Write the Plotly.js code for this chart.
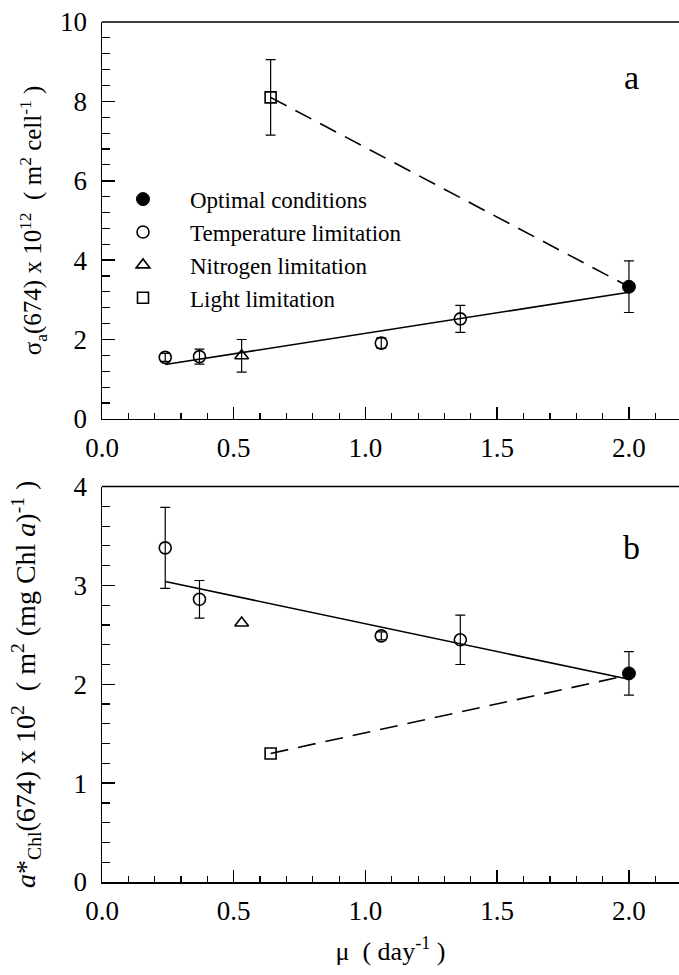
<!DOCTYPE html>
<html><head><meta charset="utf-8">
<script src="https://cdn.plot.ly/plotly-3.0.1.min.js"></script>
<style>html,body{margin:0;padding:0;background:#fff;overflow:hidden}</style>
</head><body><div id="chart" style="width:679px;height:975px"></div>
<script>
// ---- Panel a : sigma_a(674) x 10^12 (m2 cell-1) ----
const optX_a = [2.0];
const optY_a = [3.33];
const optErr_a = [0.65];
const tempX_a = [0.24, 0.37, 1.06, 1.36];
const tempY_a = [1.55, 1.57, 1.91, 2.52];
const tempErr_a = [0.10, 0.19, 0.13, 0.34];
const nitX_a = [0.53];
const nitY_a = [1.59];
const nitErr_a = [0.41];
const lightX_a = [0.64];
const lightY_a = [8.10];
const lightErr_a = [0.95];
const fitX_a = [0.24, 2.0];
const fitY_a = [1.37, 3.19];
const dashX_a = [0.64, 2.0];
const dashY_a = [8.10, 3.33];

// ---- Panel b : a*Chl(674) x 10^2 (m2 (mg Chl a)-1) ----
const optX_b = [2.0];
const optY_b = [2.11];
const optErr_b = [0.22];
const tempX_b = [0.24, 0.37, 1.06, 1.36];
const tempY_b = [3.38, 2.86, 2.49, 2.45];
const tempErr_b = [0.41, 0.19, 0.04, 0.25];
const nitX_b = [0.53];
const nitY_b = [2.62];
const lightX_b = [0.64];
const lightY_b = [1.30];
const fitX_b = [0.24, 2.0];
const fitY_b = [3.04, 2.05];
const dashX_b = [0.64, 1.96];
const dashY_b = [1.30, 2.07];

const xTickVals = [0, 0.5, 1.0, 1.5, 2.0];
const groupNames = ['Optimal conditions', 'Temperature limitation', 'Nitrogen limitation', 'Light limitation'];

const FONT = 'Liberation Serif, Times New Roman, serif';
const NB = '\u00A0';
const errStyle = {type:'data', visible:true, color:'black', thickness:1.2, width:5};

function err(arr){ return Object.assign({}, errStyle, {array: arr}); }

const traces = [
  // lines panel a
  {x: fitX_a, y: fitY_a, mode:'lines', line:{color:'black', width:1.6}, showlegend:false, xaxis:'x', yaxis:'y', hoverinfo:'skip'},
  {x: dashX_a, y: dashY_a, mode:'lines', line:{color:'black', width:1.6, dash:'18px,10px'}, showlegend:false, xaxis:'x', yaxis:'y', hoverinfo:'skip'},
  // lines panel b
  {x: fitX_b, y: fitY_b, mode:'lines', line:{color:'black', width:1.6}, showlegend:false, xaxis:'x2', yaxis:'y2', hoverinfo:'skip'},
  {x: dashX_b, y: dashY_b, mode:'lines', line:{color:'black', width:1.6, dash:'18px,10px'}, showlegend:false, xaxis:'x2', yaxis:'y2', hoverinfo:'skip'},
  // markers panel a
  {x: optX_a, y: optY_a, error_y: err(optErr_a), mode:'markers', name: groupNames[0], legendgroup:'g0',
   marker:{symbol:'circle', size:13, color:'black', line:{color:'black', width:1}}, xaxis:'x', yaxis:'y'},
  {x: tempX_a, y: tempY_a, error_y: err(tempErr_a), mode:'markers', name: groupNames[1], legendgroup:'g1',
   marker:{symbol:'circle-open', size:12, color:'black', line:{color:'black', width:1.6}}, xaxis:'x', yaxis:'y'},
  {x: nitX_a, y: nitY_a, error_y: err(nitErr_a), mode:'markers', name: groupNames[2], legendgroup:'g2',
   marker:{symbol:'triangle-up-open', size:12, color:'black', line:{color:'black', width:1.6}}, xaxis:'x', yaxis:'y'},
  {x: lightX_a, y: lightY_a, error_y: err(lightErr_a), mode:'markers', name: groupNames[3], legendgroup:'g3',
   marker:{symbol:'square-open', size:11, color:'black', line:{color:'black', width:1.6}}, xaxis:'x', yaxis:'y'},
  // markers panel b
  {x: optX_b, y: optY_b, error_y: err(optErr_b), mode:'markers', name: groupNames[0], legendgroup:'g0', showlegend:false,
   marker:{symbol:'circle', size:13, color:'black', line:{color:'black', width:1}}, xaxis:'x2', yaxis:'y2'},
  {x: tempX_b, y: tempY_b, error_y: err(tempErr_b), mode:'markers', name: groupNames[1], legendgroup:'g1', showlegend:false,
   marker:{symbol:'circle-open', size:12, color:'black', line:{color:'black', width:1.6}}, xaxis:'x2', yaxis:'y2'},
  {x: nitX_b, y: nitY_b, mode:'markers', name: groupNames[2], legendgroup:'g2', showlegend:false,
   marker:{symbol:'triangle-up-open', size:12, color:'black', line:{color:'black', width:1.6}}, xaxis:'x2', yaxis:'y2'},
  {x: lightX_b, y: lightY_b, mode:'markers', name: groupNames[3], legendgroup:'g3', showlegend:false,
   marker:{symbol:'square-open', size:11, color:'black', line:{color:'black', width:1.6}}, xaxis:'x2', yaxis:'y2'}
];

function tickFont(){ return {family: FONT, size: 27, color:'black'}; }
function xAxis(anchor){
  return {
    anchor: anchor, domain:[0,1], range:[0, 2.19],
    tickvals: xTickVals, ticktext: xTickVals.map(v => v.toFixed(1)),
    ticks:'inside', ticklen:12, tickwidth:1.5, tickcolor:'black',
    minor:{dtick:0.1, tick0:0, ticks:'inside', ticklen:6, tickwidth:1.2, tickcolor:'black', showgrid:false},
    showline:true, linecolor:'black', linewidth:1.5, showgrid:false, zeroline:false,
    tickfont: tickFont(), ticklabelstandoff: 4
  };
}
function yAxis(anchor, domain, range, dtick, mdtick, title, tsize){
  return {
    anchor: anchor, domain: domain, range: range, dtick: dtick, tick0:0,
    ticks:'inside', ticklen:13, tickwidth:1.5, tickcolor:'black',
    minor:{dtick:mdtick, tick0:0, ticks:'inside', ticklen:8, tickwidth:1.2, tickcolor:'black', showgrid:false},
    showline:true, linecolor:'black', linewidth:1.5, showgrid:false, zeroline:false,
    tickfont: tickFont(), ticklabelstandoff: 8,
    title:{text:title, font:{family:FONT, size:tsize, color:'black'}}
  };
}

const layout = {
  width:679, height:975,
  margin:{l:102, r:0, t:22, b:93},
  paper_bgcolor:'white', plot_bgcolor:'white',
  font:{family:FONT, color:'black'},
  showlegend:true,
  legend:{x:-0.0104, y:0.819, xanchor:'left', yanchor:'top', bgcolor:'rgba(0,0,0,0)',
          font:{family:FONT, size:23, color:'black'}, itemwidth:84, tracegroupgap:0},
  xaxis: xAxis('y'),
  yaxis: yAxis('x', [0.5385, 1], [0, 10], 2, 0.4,
    'σ<sub>a</sub>(674) x 10<sup>12</sup>' + NB + NB + '(' + NB + 'm<sup>2</sup> cell<sup>-1</sup>' + NB + ')', 25),
  xaxis2: Object.assign(xAxis('y2'), {title:{text:'μ' + NB + NB + '(' + NB + 'day<sup>-1</sup>' + NB + ')',
    font:{family:FONT, size:26, color:'black'}, standoff:17}}),
  yaxis2: yAxis('x2', [0, 0.4598], [0, 4], 1, 0.2,
    '<i>a</i>*<sub>Chl</sub>(674) x 10<sup>2</sup>' + NB + NB + '(' + NB + 'm<sup>2</sup> (mg Chl <i>a</i>)<sup>-1</sup>' + NB + ')', 28),
  shapes:[
    {type:'line', xref:'x domain', yref:'y domain', x0:0, x1:1, y0:1, y1:1, line:{color:'black', width:1.5}},
    {type:'line', xref:'x2 domain', yref:'y2 domain', x0:0, x1:1, y0:1, y1:1, line:{color:'black', width:1.5}}
  ],
  annotations:[
    {text:'a', x:2.01, y:8.6, xref:'x', yref:'y', showarrow:false, font:{family:FONT, size:34, color:'black'}},
    {text:'b', x:2.01, y:3.38, xref:'x2', yref:'y2', showarrow:false, font:{family:FONT, size:34, color:'black'}}
  ]
};

Plotly.newPlot('chart', traces, layout, {staticPlot:true, displayModeBar:false});
</script>
</body></html>
